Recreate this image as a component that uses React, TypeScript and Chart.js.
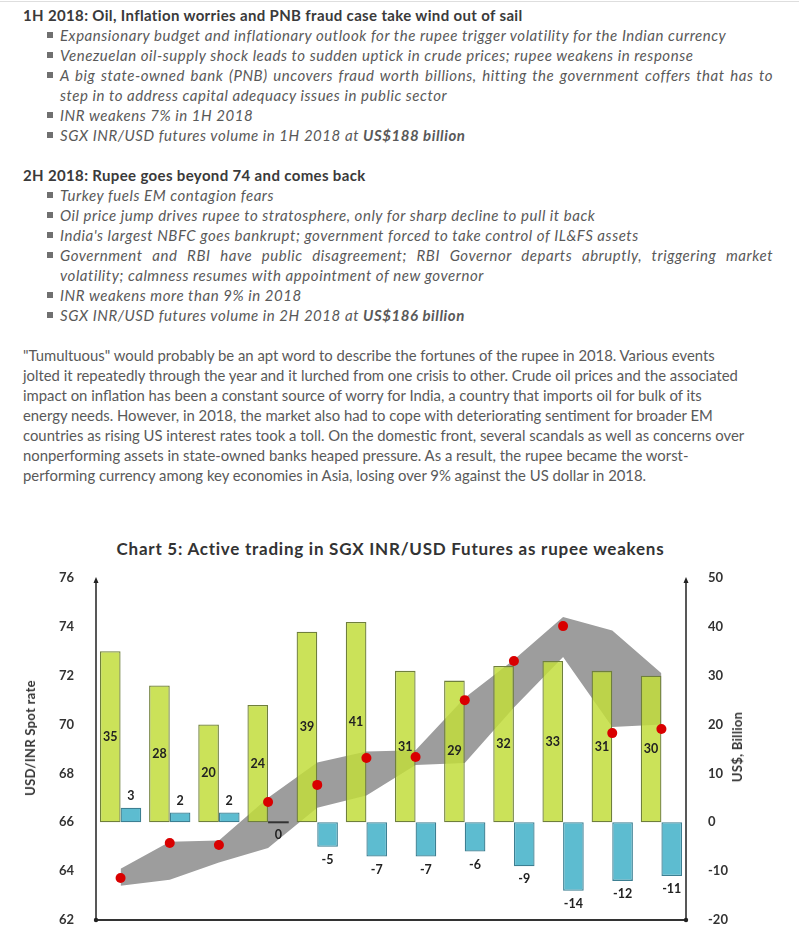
import React, { useEffect, useRef } from 'react';
import { Chart, registerables } from 'chart.js';

Chart.register(...registerables);

// ---- data ----
const months = ['Jan-18', 'Feb-18', 'Mar-18', 'Apr-18', 'May-18', 'Jun-18', 'Jul-18', 'Aug-18', 'Sep-18', 'Oct-18', 'Nov-18', 'Dec-18'];
const futuresVolume = [35, 28, 20, 24, 39, 41, 31, 29, 32, 33, 31, 30];
const volumeChange = [3, 2, 2, 0, -5, -7, -7, -6, -9, -14, -12, -11];
const spotMonthEnd = [63.72, 65.15, 65.07, 66.83, 67.53, 68.63, 68.67, 71.0, 72.6, 74.03, 69.65, 69.82];
const spotHigh = [64.1, 65.2, 65.25, 67.0, 68.45, 68.9, 68.95, 71.1, 72.65, 74.4, 73.85, 72.1];
const spotLow = [63.4, 63.65, 64.35, 64.95, 66.6, 67.1, 68.34, 68.43, 70.7, 72.77, 69.9, 70.0];
const leftAxisRange = [62, 76, 2];
const rightAxisRange = [-20, 50, 10];

const FONT = 'Lato, "Open Sans", sans-serif';
const TEXT_DARK = '#3a3a3a';
const TEXT_GRAY = '#595959';

const decorPlugin = {
  id: 'decor',
  afterDraw(chart: any) {
    const ctx = chart.ctx;
    const { left, right, top, bottom } = chart.chartArea;
    ctx.save();
    // zero-height bars drawn as a dark line
    [2, 3].forEach((di) => {
      const meta = chart.getDatasetMeta(di);
      const vals = chart.data.datasets[di].data;
      meta.data.forEach((el: any, i: number) => {
        if (vals[i] === 0) {
          const p = el.getProps(['x', 'y', 'width'], true);
          ctx.strokeStyle = '#333';
          ctx.lineWidth = 2;
          ctx.beginPath();
          ctx.moveTo(p.x - p.width / 2, p.y);
          ctx.lineTo(p.x + p.width / 2, p.y);
          ctx.stroke();
        }
      });
    });
    // labels
    ctx.font = `bold 12.5px ${FONT}`;
    ctx.fillStyle = '#222';
    ctx.textAlign = 'center';
    ctx.textBaseline = 'middle';
    const gMeta = chart.getDatasetMeta(2);
    gMeta.data.forEach((el: any, i: number) => {
      const p = el.getProps(['x', 'y', 'base'], true);
      ctx.fillText(String(futuresVolume[i]), p.x, (p.y + p.base) / 2);
    });
    const bMeta = chart.getDatasetMeta(3);
    bMeta.data.forEach((el: any, i: number) => {
      const p = el.getProps(['x', 'y', 'base'], true);
      const v = volumeChange[i];
      const y = v > 0 ? p.y - 12 : p.y + 13;
      ctx.fillText(String(v), p.x, y);
    });
    // axes
    ctx.strokeStyle = '#222';
    ctx.fillStyle = '#222';
    ctx.lineWidth = 1.5;
    ctx.beginPath();
    ctx.moveTo(left, bottom);
    ctx.lineTo(left, top + 2);
    ctx.moveTo(right, bottom);
    ctx.lineTo(right, top + 2);
    ctx.stroke();
    ctx.lineWidth = 2;
    ctx.strokeStyle = '#333';
    ctx.beginPath();
    ctx.moveTo(left, bottom);
    ctx.lineTo(right, bottom);
    ctx.stroke();
    [left, right].forEach((x) => {
      ctx.beginPath();
      ctx.moveTo(x, top - 1);
      ctx.lineTo(x - 2.5, top + 5);
      ctx.lineTo(x + 2.5, top + 5);
      ctx.closePath();
      ctx.fill();
      ctx.beginPath();
      ctx.arc(x, bottom, 2.2, 0, Math.PI * 2);
      ctx.fill();
    });
    ctx.restore();
  },
};

function ChartBlock() {
  const ref = useRef<HTMLCanvasElement | null>(null);
  useEffect(() => {
    if (!ref.current) return;
    const tickFont = { family: FONT, size: 13, weight: 'bold' as const };
    const chart = new Chart(ref.current, {
      type: 'bar',
      data: {
        labels: months,
        datasets: [
          {
            type: 'line',
            label: 'Low',
            data: spotLow,
            yAxisID: 'y',
            borderWidth: 0,
            borderColor: 'rgba(0,0,0,0)',
            pointRadius: 0,
            fill: false,
            tension: 0,
            order: 3,
          } as any,
          {
            type: 'line',
            label: 'High',
            data: spotHigh,
            yAxisID: 'y',
            borderWidth: 0,
            borderColor: 'rgba(0,0,0,0)',
            backgroundColor: '#9d9d9d',
            pointRadius: 0,
            fill: '-1',
            tension: 0,
            order: 2,
          } as any,
          {
            type: 'bar',
            label: 'Volume',
            data: futuresVolume,
            yAxisID: 'y1',
            backgroundColor: 'rgba(194,221,60,0.85)',
            borderColor: '#6f7f3c',
            borderWidth: 1.3,
            borderSkipped: false,
            categoryPercentage: 0.84,
            barPercentage: 1,
            order: 1,
          },
          {
            type: 'bar',
            label: 'Change',
            data: volumeChange,
            yAxisID: 'y1',
            backgroundColor: 'rgba(84,184,206,0.95)',
            borderColor: '#3c7f92',
            borderWidth: 1.3,
            borderSkipped: false,
            categoryPercentage: 0.84,
            barPercentage: 1,
            order: 1,
          },
          {
            type: 'line',
            label: 'Spot',
            data: spotMonthEnd,
            yAxisID: 'y',
            showLine: false,
            pointRadius: 5,
            pointHoverRadius: 5,
            pointBackgroundColor: '#d90000',
            pointBorderWidth: 0,
            borderColor: '#d90000',
            order: 0,
          } as any,
        ],
      },
      options: {
        animation: false,
        responsive: false,
        events: [],
        layout: { padding: { top: 58, left: 0, right: 0, bottom: 0 } },
        plugins: { legend: { display: false }, title: { display: false }, tooltip: { enabled: false } },
        scales: {
          x: {
            grid: { display: false },
            border: { display: false },
            ticks: { font: { family: FONT, size: 11 }, color: '#555', padding: 8, maxRotation: 0, autoSkip: false },
            afterFit: (s: any) => { s.height = 30; },
          },
          y: {
            position: 'left',
            min: leftAxisRange[0],
            max: leftAxisRange[1],
            grid: { display: false },
            border: { display: false },
            ticks: { stepSize: leftAxisRange[2], font: tickFont, color: '#333', padding: 14 },
            afterFit: (s: any) => { s.width = 96; },
          },
          y1: {
            position: 'right',
            min: rightAxisRange[0],
            max: rightAxisRange[1],
            grid: { display: false },
            border: { display: false },
            ticks: { stepSize: rightAxisRange[2], font: tickFont, color: '#333', padding: 14 },
            afterFit: (s: any) => { s.width = 113; },
          },
        },
      },
      plugins: [decorPlugin],
    });
    return () => chart.destroy();
  }, []);
  return (
    <canvas ref={ref} width={799} height={430} style={{ position: 'absolute', left: 0, top: 520, width: 799, height: 430 }} />
  );
}

const Bullet = ({ children }: { children: any }) => (
  <div style={{ position: 'relative', paddingLeft: 37, fontStyle: 'italic', color: TEXT_GRAY, fontSize: 15, letterSpacing: '0.55px' }}>
    <span style={{ position: 'absolute', left: 24, top: 7, width: 6, height: 6, background: '#707070' }} />
    {children}
  </div>
);

const JustLine = ({ children }: { children: any }) => (
  <div style={{ textAlign: 'justify', textAlignLast: 'justify' as any }}>{children}</div>
);

const paragraphLines = [
  '"Tumultuous" would probably be an apt word to describe the fortunes of the rupee in 2018. Various events',
  'jolted it repeatedly through the year and it lurched from one crisis to other. Crude oil prices and the associated',
  'impact on inflation has been a constant source of worry for India, a country that imports oil for bulk of its',
  'energy needs. However, in 2018, the market also had to cope with deteriorating sentiment for broader EM',
  'countries as rising US interest rates took a toll. On the domestic front, several scandals as well as concerns over',
  'nonperforming assets in state-owned banks heaped pressure. As a result, the rupee became the worst-',
  'performing currency among key economies in Asia, losing over 9% against the US dollar in 2018.',
];

export default function App() {
  useEffect(() => {
    document.body.style.margin = '0';
    document.body.style.overflow = 'hidden';
    document.documentElement.style.overflow = 'hidden';
  }, []);
  const head = { fontWeight: 700, color: TEXT_DARK, fontSize: 15, letterSpacing: '0.35px' };
  return (
    <div style={{ position: 'fixed', left: 0, top: 0, width: 799, height: 933, overflow: 'hidden', background: '#fff', fontFamily: FONT }}>
      <div style={{ position: 'absolute', left: 0, top: 1, width: 799, height: 1, background: '#dedede' }} />
      <div style={{ position: 'absolute', left: 23, top: 5, width: 750, fontSize: 14.85, lineHeight: '20px', color: TEXT_GRAY }}>
        <div style={head}>1H 2018: Oil, Inflation worries and PNB fraud case take wind out of sail</div>
        <Bullet>Expansionary budget and inflationary outlook for the rupee trigger volatility for the Indian currency</Bullet>
        <Bullet>Venezuelan oil-supply shock leads to sudden uptick in crude prices; rupee weakens in response</Bullet>
        <Bullet>
          <JustLine>A big state-owned bank (PNB) uncovers fraud worth billions, hitting the government coffers that has to</JustLine>
          <div>step in to address capital adequacy issues in public sector</div>
        </Bullet>
        <Bullet>INR weakens 7% in 1H 2018</Bullet>
        <Bullet>SGX INR/USD futures volume in 1H 2018 at <b>US$188 billion</b></Bullet>
        <div style={{ height: 20 }} />
        <div style={head}>2H 2018: Rupee goes beyond 74 and comes back</div>
        <Bullet>Turkey fuels EM contagion fears</Bullet>
        <Bullet>Oil price jump drives rupee to stratosphere, only for sharp decline to pull it back</Bullet>
        <Bullet>India's largest NBFC goes bankrupt; government forced to take control of IL&amp;FS assets</Bullet>
        <Bullet>
          <JustLine>Government and RBI have public disagreement; RBI Governor departs abruptly, triggering market</JustLine>
          <div>volatility; calmness resumes with appointment of new governor</div>
        </Bullet>
        <Bullet>INR weakens more than 9% in 2018</Bullet>
        <Bullet>SGX INR/USD futures volume in 2H 2018 at <b>US$186 billion</b></Bullet>
        <div style={{ height: 20 }} />
        {paragraphLines.map((l, i) => (
          <div key={i} style={{ whiteSpace: 'nowrap' }}>{l}</div>
        ))}
      </div>
      <div style={{ position: 'absolute', left: 0, top: 538, width: 781, textAlign: 'center', fontWeight: 700, fontSize: 17, letterSpacing: '0.75px', lineHeight: '22px', color: '#333', whiteSpace: 'nowrap' }}>
        Chart 5: Active trading in SGX INR/USD Futures as rupee weakens
      </div>
      <ChartBlock />
      <div style={{ position: 'absolute', left: 30, top: 738, transform: 'translate(-50%,-50%) rotate(-90deg)', whiteSpace: 'nowrap', fontWeight: 700, fontSize: 13, letterSpacing: '0.3px', color: '#333' }}>
        USD/INR Spot rate
      </div>
      <div style={{ position: 'absolute', left: 737, top: 747, transform: 'translate(-50%,-50%) rotate(-90deg)', whiteSpace: 'nowrap', fontWeight: 700, fontSize: 13, letterSpacing: '0.3px', color: '#333' }}>
        US$, Billion
      </div>
    </div>
  );
}
